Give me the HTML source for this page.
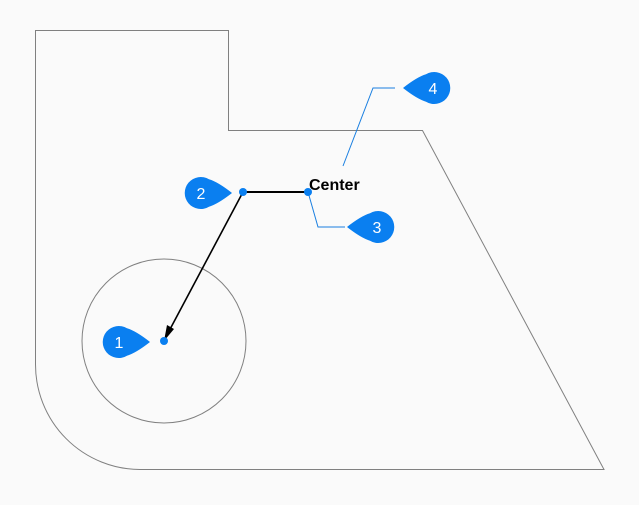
<!DOCTYPE html>
<html><head><style>html,body{margin:0;padding:0;background:#fafafa;}svg{display:block}</style></head>
<body>
<svg width="639" height="505" viewBox="0 0 639 505" xmlns="http://www.w3.org/2000/svg">
<rect width="639" height="505" fill="#fafafa"/>
<path d="M35.5 30.5 H228.5 V130.5 H422.5 L604 469.5 H140 A105 105 0 0 1 35.5 364.5 Z" fill="none" stroke="#808080" stroke-width="1"/>
<circle cx="164" cy="341" r="82" fill="none" stroke="#808080" stroke-width="1"/>
<line x1="243" y1="192" x2="308" y2="192" stroke="#000" stroke-width="2"/>
<line x1="243" y1="192" x2="168" y2="333" stroke="#000" stroke-width="1.6"/>
<polygon points="164,341 167,325 174,329" fill="#000"/>
<polyline points="308,192 318,227 345,227" fill="none" stroke="#1a7fe0" stroke-width="1"/>
<polyline points="343,166 373,88 395,88" fill="none" stroke="#1a7fe0" stroke-width="1"/>
<circle cx="243" cy="192" r="4" fill="#0a7ff0"/>
<circle cx="308" cy="192" r="4" fill="#0a7ff0"/>
<circle cx="164" cy="341" r="4" fill="#0a7ff0"/>
<text x="309" y="190" font-family="Liberation Sans, sans-serif" font-weight="bold" font-size="16" fill="#000">Center</text>
<g fill="#0a7ff0">
<path d="M232 193 Q218 182 209 179.3 A16 16 0 1 0 209 206.7 Q218 204 232 193 Z"/>
<path d="M150 342 Q136 331 127 328.3 A16 16 0 1 0 127 355.7 Q136 353 150 342 Z"/>
<path d="M347 227 Q361 216 370 213.3 A16 16 0 1 1 370 240.7 Q361 238 347 227 Z"/>
<path d="M403 88 Q417 77 426 74.3 A16 16 0 1 1 426 101.7 Q417 99 403 88 Z"/>
</g>
<g fill="#fff" font-family="Liberation Sans, sans-serif" font-size="16" text-anchor="middle">
<text x="201" y="199">2</text>
<text x="119" y="348">1</text>
<text x="377" y="233">3</text>
<text x="433" y="94">4</text>
</g>
</svg>
</body></html>
